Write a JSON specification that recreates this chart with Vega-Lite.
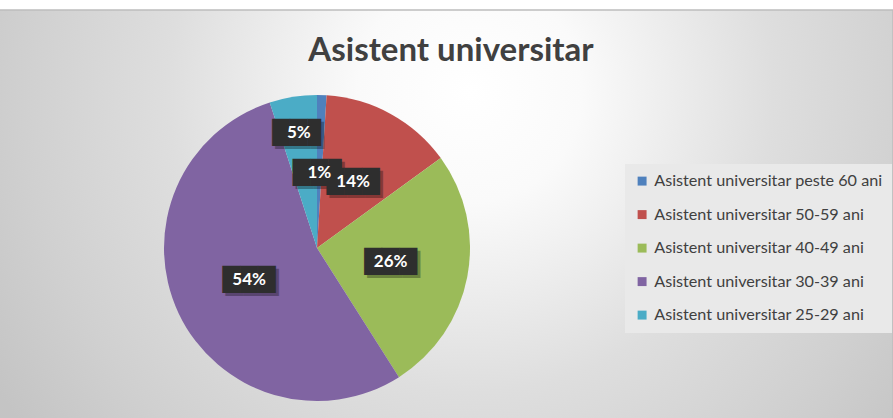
{
  "$schema": "https://vega.github.io/schema/vega-lite/v6.json",
  "autosize": {"type": "none"},
  "width": 1152,
  "height": 476,
  "padding": {"left": -259, "top": 10, "right": 0, "bottom": -68},
  "background": "#ffffff",
  "config": {"view": {"stroke": null}},
  "title": {
    "text": "Asistent universitar",
    "font": "Lato",
    "fontSize": 33,
    "fontWeight": "bold",
    "color": "#404040",
    "anchor": "middle",
    "baseline": "middle",
    "frame": "group",
    "offset": -75,
    "dx": 134
  },
  "datasets": {
    "shares": [
      {"category": "Asistent universitar peste 60 ani", "value": 0.01},
      {"category": "Asistent universitar 50-59 ani", "value": 0.14},
      {"category": "Asistent universitar 40-49 ani", "value": 0.26},
      {"category": "Asistent universitar 30-39 ani", "value": 0.54},
      {"category": "Asistent universitar 25-29 ani", "value": 0.05}
    ],
    "frame": [{"panel": "chart area"}]
  },
  "data": {"name": "shares"},
  "layer": [
    {
      "data": {"name": "frame"},
      "mark": {
        "type": "rect",
        "stroke": "#bdbdbd",
        "strokeWidth": 1.5,
        "fill": {
          "gradient": "radial",
          "x1": 0.633, "y1": 0.363, "r1": 0,
          "x2": 0.633, "y2": 0.363, "r2": 0.486,
          "stops": [
            {"offset": 0, "color": "#ffffff"},
            {"offset": 0.2, "color": "#fafafa"},
            {"offset": 0.54, "color": "#dedede"},
            {"offset": 0.8, "color": "#d0d0d0"},
            {"offset": 1, "color": "#c4c4c4"}
          ]
        }
      },
      "encoding": {}
    },
    {
      "mark": {"type": "arc", "outerRadius": 153},
      "encoding": {
        "theta": {"field": "value", "type": "quantitative", "stack": true},
        "order": {"field": "category", "sort": "descending"},
        "color": {
          "field": "category",
          "type": "nominal",
          "scale": {
            "domain": [
              "Asistent universitar peste 60 ani",
              "Asistent universitar 50-59 ani",
              "Asistent universitar 40-49 ani",
              "Asistent universitar 30-39 ani",
              "Asistent universitar 25-29 ani"
            ],
            "range": ["#4f81bd", "#c0504d", "#9bbb59", "#8064a2", "#4bacc6"]
          },
          "legend": {
            "title": null,
            "orient": "none",
            "legendX": 884,
            "legendY": 154,
            "fillColor": "#e9e9e9",
            "padding": 9,
            "symbolType": "square",
            "symbolSize": 80,
            "symbolStrokeWidth": 0,
            "labelFont": "Lato",
            "labelFontSize": 16.2,
            "labelColor": "#404040",
            "labelLimit": 400,
            "labelOffset": 4,
            "rowPadding": 16.5
          }
        }
      }
    },
    {
      "mark": {"type": "text", "font": "DejaVu Sans", "fontSize": 23, "color": "#000000", "opacity": 0.3, "dx": 3, "dy": 3, "baseline": "middle", "align": "center"},
      "encoding": {
        "theta": {"field": "value", "type": "quantitative", "stack": true},
        "order": {"field": "category", "sort": "descending"},
        "detail": {"field": "category"},
        "radius": {"value": {"expr": "datum.value > 0.03 && datum.value < 0.1 ? 116 : 75"}},
        "text": {"value": {"expr": "datum.value < 0.1 ? '██▊' : '███'"}}
      }
    },
    {
      "mark": {"type": "text", "font": "DejaVu Sans", "fontSize": 23, "color": "#2e2e2e", "baseline": "middle", "align": "center"},
      "encoding": {
        "theta": {"field": "value", "type": "quantitative", "stack": true},
        "order": {"field": "category", "sort": "descending"},
        "detail": {"field": "category"},
        "radius": {"value": {"expr": "datum.value > 0.03 && datum.value < 0.1 ? 116 : 75"}},
        "text": {"value": {"expr": "datum.value < 0.1 ? '██▊' : '███'"}}
      }
    },
    {
      "mark": {"type": "text", "font": "Lato", "fontSize": 17, "fontWeight": "bold", "color": "#ffffff", "baseline": "middle", "align": "center"},
      "encoding": {
        "theta": {"field": "value", "type": "quantitative", "stack": true},
        "order": {"field": "category", "sort": "descending"},
        "detail": {"field": "category"},
        "radius": {"value": {"expr": "datum.value > 0.03 && datum.value < 0.1 ? 116 : 75"}},
        "text": {"field": "value", "type": "quantitative", "format": ".0%"}
      }
    }
  ]
}
